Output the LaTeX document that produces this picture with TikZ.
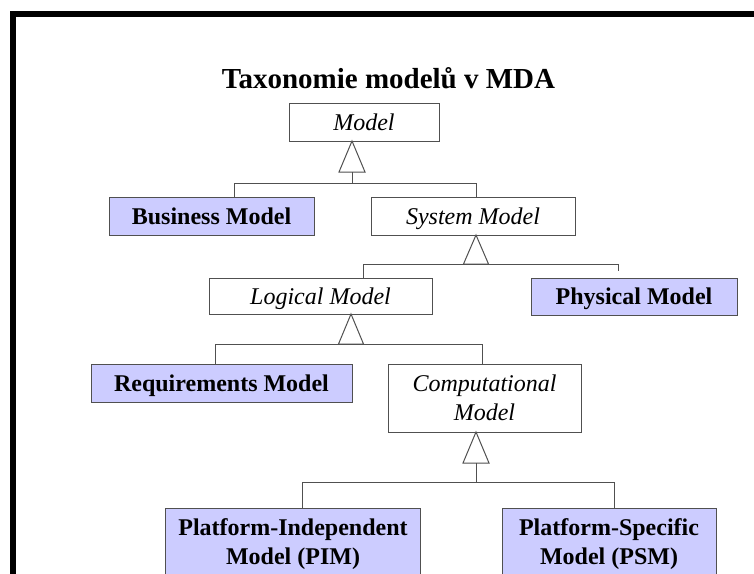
\documentclass[tikz,border=0pt]{standalone}
\usepackage{fontspec}
\setmainfont{Liberation Serif}
\usetikzlibrary{calc}
\definecolor{concretefill}{HTML}{CCCCFF}
\definecolor{edgegray}{HTML}{505050}
\begin{document}
\begin{tikzpicture}[x=1pt,y=-1pt,
  box/.style={draw=edgegray, line width=1pt, rectangle, inner sep=0pt, align=center},
  oneline/.style={text height=18pt, text depth=2pt},
  concrete/.style={box, fill=concretefill, font=\fontsize{24}{29.5}\selectfont\bfseries},
  abstract/.style={box, fill=white, font=\fontsize{24}{29.5}\selectfont\itshape},
  conn/.style={draw=edgegray, line width=1pt, line join=miter},
  gen/.style={conn, fill=white},
]
\useasboundingbox (0,0) rectangle (754,573);
\clip (0,0) rectangle (754,573);

% frame
\draw[line width=6.5pt, line join=miter] (13,580) -- (13,14) -- (760,14);

% title
\node[anchor=base, font=\fontsize{29}{34}\selectfont\bfseries] (title) at (388.5,88)
  {Taxonomie modelů v MDA};

% classes
\node[abstract, oneline, minimum width=150pt, minimum height=38pt] (model) at (364,122) {Model};
\node[concrete, oneline, minimum width=205pt, minimum height=38pt] (business) at (211.5,216) {Business Model};
\node[abstract, oneline, minimum width=204pt, minimum height=38pt] (system) at (473,216) {System Model};
\node[abstract, oneline, minimum width=223pt, minimum height=36pt] (logical) at (320.5,296) {Logical Model};
\node[concrete, oneline, minimum width=206pt, minimum height=37pt] (physical) at (634,296.5) {Physical Model};
\node[concrete, oneline, minimum width=261pt, minimum height=38pt] (requirements) at (221.5,383) {Requirements Model};
\node[abstract, minimum width=193pt, minimum height=68pt] (computational) at (484.5,398)
  {Computational\\Model};
\node[concrete, minimum width=255pt, minimum height=72pt] (pim) at (293,544)
  {Platform-Independent\\Model (PIM)};
\node[concrete, minimum width=214pt, minimum height=72pt] (psm) at (609,544)
  {Platform-Specific\\Model (PSM)};

% generalization: Model
\coordinate (g1) at (352,141);
\coordinate (j1a) at (234,183);
\coordinate (j1b) at (476,183);
\draw[gen] (g1) -- ++(-13,31) -- ++(26,0) -- cycle;
\draw[conn] ($(g1)+(0,31)$) -- (g1 |- j1a);
\draw[conn] (j1a |- business.north) -- (j1a) -- (j1b) -- (j1b |- system.north);

% generalization: System Model
\coordinate (g2) at (476,235);
\coordinate (j2a) at (363,264);
\coordinate (j2b) at (618,264);
\draw[gen] (g2) -- ++(-12.5,29) -- ++(25,0) -- cycle;
\draw[conn] (j2a |- logical.north) -- (j2a) -- (j2b) -- ++(0,7);

% generalization: Logical Model
\coordinate (g3) at (351,314);
\coordinate (j3a) at (215,344);
\coordinate (j3b) at (482,344);
\draw[gen] (g3) -- ++(-12.5,30) -- ++(25,0) -- cycle;
\draw[conn] (j3a |- requirements.north) -- (j3a) -- (j3b) -- (j3b |- computational.north);

% generalization: Computational Model
\coordinate (g4) at (476,432);
\coordinate (j4a) at (302,482);
\coordinate (j4b) at (614,482);
\draw[gen] (g4) -- ++(-13,31) -- ++(26,0) -- cycle;
\draw[conn] ($(g4)+(0,31)$) -- (g4 |- j4a);
\draw[conn] (j4a |- pim.north) -- (j4a) -- (j4b) -- (j4b |- psm.north);
\end{tikzpicture}
\end{document}
